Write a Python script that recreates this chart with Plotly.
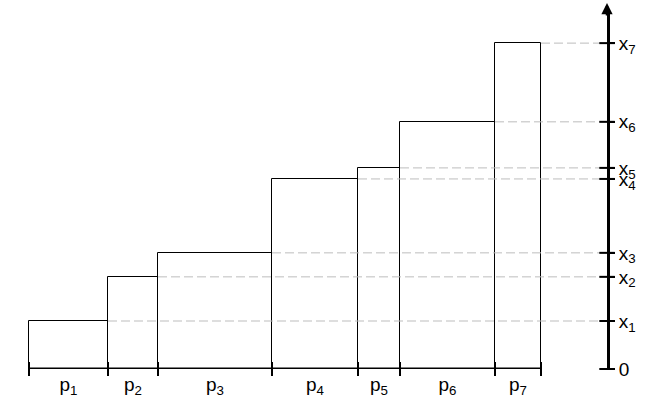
import plotly.graph_objects as go
import numpy as np

# bar widths (p) and heights (x)
p_labels = ["p<sub>%d</sub>" % i for i in range(1, 8)]
x_labels = ["x<sub>%d</sub>" % i for i in range(1, 8)]
p_widths = [0.79, 0.50, 1.14, 0.86, 0.42, 0.95, 0.46]
x_heights = [1.0, 1.92, 2.42, 3.96, 4.19, 5.15, 6.79]

edges = np.concatenate([[0], np.cumsum(p_widths)])
centers = (edges[:-1] + edges[1:]) / 2
x_end = 5.78      # where the vertical axis sits
y_top = 7.48

fig = go.Figure()

fig.add_trace(go.Bar(
    x=centers, y=x_heights, width=p_widths, base=0,
    marker=dict(color="white", line=dict(color="black", width=1)),
    cliponaxis=False, showlegend=False, hoverinfo="skip"))

# dashed guides from each bar top to the axis
for i, h in enumerate(x_heights):
    fig.add_trace(go.Scatter(
        x=[edges[i + 1], x_end], y=[h, h], mode="lines",
        line=dict(color="#bdbdbd", width=1, dash="9px,4px"),
        showlegend=False, hoverinfo="skip"))

# horizontal baseline with boundary ticks
fig.add_trace(go.Scatter(
    x=edges, y=[0] * len(edges), mode="lines+markers",
    line=dict(color="black", width=3),
    marker=dict(symbol="line-ns", size=10, line=dict(color="black", width=2)),
    cliponaxis=False, showlegend=False, hoverinfo="skip"))

# crossing ticks on the vertical axis
fig.add_trace(go.Scatter(
    x=[x_end] * 8, y=[0] + x_heights, mode="markers",
    marker=dict(symbol="line-ew", size=11, line=dict(color="black", width=2)),
    cliponaxis=False, showlegend=False, hoverinfo="skip"))

fig.add_annotation(x=x_end, y=1.0, xref="x", yref="paper", yshift=7,
                   ax=0, ay=14, text="", showarrow=True,
                   arrowhead=2, arrowsize=0.9, arrowwidth=2.5, arrowcolor="black")

fig.update_layout(
    width=662, height=413,
    margin=dict(l=27, r=55, t=10, b=44),
    plot_bgcolor="white", paper_bgcolor="white",
    font=dict(family="Arial", size=19, color="black"),
    bargap=0,
    xaxis=dict(range=[-0.02, x_end], tickvals=centers, ticktext=p_labels,
               ticks="", showline=False, showgrid=False, zeroline=False,
               ticklabelstandoff=2, automargin=False),
    yaxis=dict(range=[0, y_top], side="right", tickvals=[0] + x_heights,
               ticktext=["0"] + x_labels, ticks="outside", ticklen=5,
               tickwidth=2, tickcolor="black", showline=True, linewidth=3,
               linecolor="black", showgrid=False, zeroline=False,
               automargin=False),
)

# drop the page's default body margin so the figure sits at the corner
fig.write_html("out.html", config={"displayModeBar": False},
               post_script="document.body.style.margin='0';")
